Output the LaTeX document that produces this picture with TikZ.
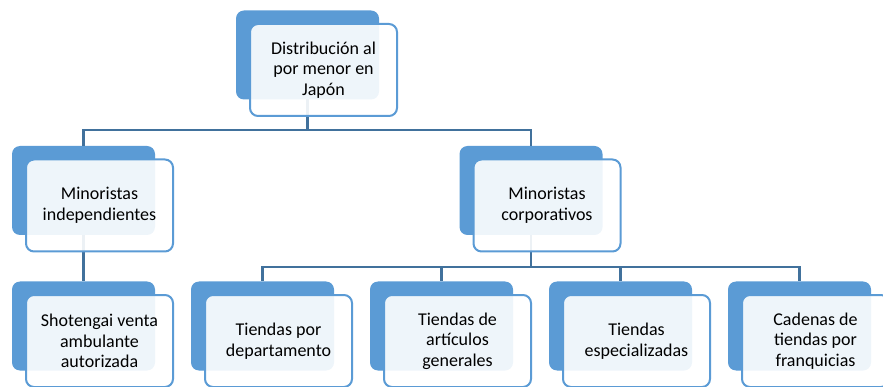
\documentclass[tikz,border=0pt]{standalone}
\usepackage{fontspec}
\setmainfont{Carlito}
\usepackage{xcolor}
\definecolor{ColA}{RGB}{91,155,213}
\definecolor{ColB}{RGB}{65,113,156}
\tikzstyle{BoxBack}=[rectangle,rounded corners=8pt,fill=ColA,minimum width=143pt,
minimum height=89pt,inner sep=0pt,outer sep=0pt]
\tikzstyle{BoxFront}=[rectangle,rounded corners=8pt,draw=ColA,fill=white,fill opacity=0.9,
text opacity=1,line width=2pt,minimum width=147pt,minimum height=92pt,align=center,
font=\fontsize{18}{20.5}\selectfont]
\tikzstyle{EdgeTree}=[ColB,line width=2.5pt]

\begin{document}
\begin{tikzpicture}[x=1pt,y=-1pt]
        \useasboundingbox(0,0)rectangle(883,387);
        % back boxes
        \node[BoxBack](raiz)at(307.5,55){};
        \node[BoxBack](minind)at(83.5,190.5){};
        \node[BoxBack](mincorp)at(531,190.5){};
        \node[BoxBack](shot)at(83.5,326){};
        \node[BoxBack](tdep)at(262.5,326){};
        \node[BoxBack](tart)at(441.5,326){};
        \node[BoxBack](tesp)at(620.5,326){};
        \node[BoxBack](cad)at(799.5,326){};
        % connectors
        \coordinate(busA)at(307.5,130);
        \coordinate(busB)at(531,267);
        \draw[EdgeTree](raiz)--(busA);
        \draw[EdgeTree](busA)-|(minind);
        \draw[EdgeTree](busA)-|(mincorp);
        \draw[EdgeTree](minind)--(shot);
        \draw[EdgeTree](mincorp)--(busB);
        \draw[EdgeTree](busB)-|(tdep);
        \draw[EdgeTree](busB)-|(tart);
        \draw[EdgeTree](busB)-|(tesp);
        \draw[EdgeTree](busB)-|(cad);
        % front boxes
        \node[BoxFront](raiz-f)at(323.5,70){Distribución al\\por menor en\\Japón};
        \node[BoxFront](minind-f)at(99.5,205.5){Minoristas\\independientes};
        \node[BoxFront](mincorp-f)at(547,205.5){Minoristas\\corporativos};
        \node[BoxFront](shot-f)at(99.5,341){Shotengai venta\\ambulante\\autorizada};
        \node[BoxFront](tdep-f)at(278.5,341){Tiendas por\\departamento};
        \node[BoxFront](tart-f)at(457.5,341){Tiendas de\\artículos\\generales};
        \node[BoxFront](tesp-f)at(636.5,341){Tiendas\\especializadas};
        \node[BoxFront](cad-f)at(815.5,341){Cadenas de\\tiendas por\\franquicias};
    \end{tikzpicture}
\end{document}
